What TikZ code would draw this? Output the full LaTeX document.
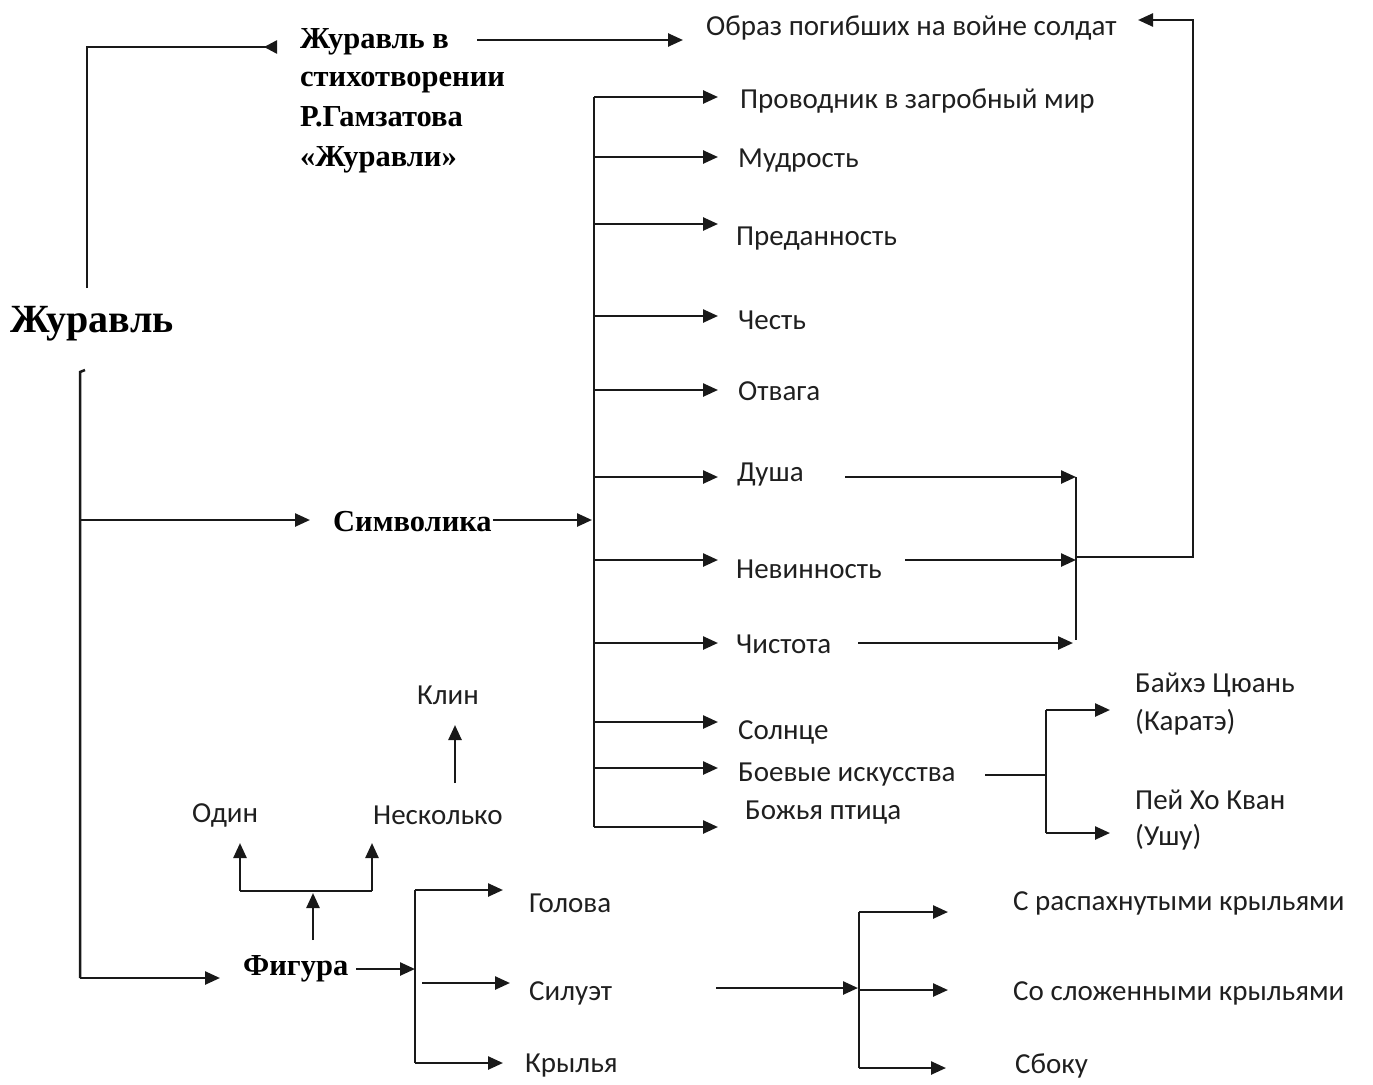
\documentclass[tikz,border=0pt]{standalone}
\usepackage{fontspec}
\setmainfont{Liberation Serif}
\newfontfamily\sansf{Carlito}
\usetikzlibrary{arrows.meta}
\begin{document}
\begin{tikzpicture}[x=1pt,y=-1pt,
  ser/.style={font=\fontsize{30.5}{34}\selectfont\bfseries, inner sep=0pt, anchor=west},
  sn/.style={font=\sansf\fontsize{29}{32}\selectfont, inner sep=0pt, anchor=west, text=black!88},
  ln/.style={line width=2.5pt, draw=black!90},
  arr/.style={ln, -{Triangle[length=15pt,width=13pt]}},
  rarr/.style={ln, -{Triangle[reversed,length=13pt,width=13pt]}}]
\useasboundingbox (0,0) rectangle (1373,1084);
% ---- serif nodes
\node[ser, font=\fontsize{40}{44}\selectfont\bfseries] (zh) at (10,324) {Журавль};
\node[ser, anchor=base west] (p1) at (300,48) {Журавль в};
\node[ser, anchor=base west] (p2) at (300,86) {стихотворении};
\node[ser, anchor=base west] (p3) at (300,126) {Р.Гамзатова};
\node[ser, anchor=base west] (p4) at (300,166) {«Журавли»};
\node[ser] (sym) at (333,522) {Символика};
\node[ser] (fig) at (243,969) {Фигура};
% ---- sans nodes
\node[sn] (obr) at (706,28) {Образ погибших на войне солдат};
\node[sn] (pr) at (740,101) {Проводник в загробный мир};
\node[sn] (mu) at (738,161) {Мудрость};
\node[sn] (pd) at (736,239) {Преданность};
\node[sn] (ch) at (738,320) {Честь};
\node[sn] (ot) at (738,391) {Отвага};
\node[sn] (du) at (737,475) {Душа};
\node[sn] (ne) at (736,569) {Невинность};
\node[sn] (cs) at (736,644) {Чистота};
\node[sn] (so) at (738,732) {Солнце};
\node[sn] (bo) at (738,775) {Боевые искусства};
\node[sn] (bp) at (745,813) {Божья птица};
\node[sn] (ba1) at (1135,685) {Байхэ Цюань};
\node[sn] (ba2) at (1135,722) {(Каратэ)};
\node[sn] (pe1) at (1135,800) {Пей Хо Кван};
\node[sn] (pe2) at (1135,837) {(Ушу)};
\node[sn] (kl) at (417,695) {Клин};
\node[sn] (od) at (192,815) {Один};
\node[sn] (ns) at (373,815) {Несколько};
\node[sn] (go) at (529,903) {Голова};
\node[sn] (si) at (529,993) {Силуэт};
\node[sn] (kr) at (525,1066) {Крылья};
\node[sn] (r1) at (1013,903) {С распахнутыми крыльями};
\node[sn] (r2) at (1013,993) {Со сложенными крыльями};
\node[sn] (r3) at (1015,1066) {Сбоку};
% ---- junction coordinates
\coordinate (zU) at (87,288); \coordinate (zUc) at (87,47); \coordinate (zUe) at (277,47);
\coordinate (pE) at (477,40); \coordinate (obrW) at (683,40);
\coordinate (mvT) at (594,97); \coordinate (mvB) at (594,827);
\coordinate (zL) at (85,370); \coordinate (zLc) at (80,372); \coordinate (zLb) at (80,978);
\coordinate (symW) at (310,520); \coordinate (mvS) at (592,520);
\coordinate (figW) at (220,978); \coordinate (fvT) at (415,890); \coordinate (fvB) at (415,1063);
% ---- connectors
\draw[rarr] (zU) -- (zUc) -- (zUe);
\draw[arr] (pE) -- (obrW);
\draw[ln] (mvT) -- (mvB);
\foreach \y in {97,157,224,316,390,477,560,643,722,768,827}
  \draw[arr] (594,\y) -- (718,\y);
\draw[ln] (zL) -- (zLc) -- (zLb);
\draw[arr] (zLc |- symW) -- (symW);
\draw[arr] ([xshift=1pt]sym.east |- mvS) -- (mvS);
\draw[arr] (zLb) -- (figW);
\draw[arr] ([xshift=8pt]fig.east) -- (fvT |- fig.east);
% Фигура up
\draw[arr] (313,940) -- (313,893);
\draw[ln] (240,891) -- (372,891);
\draw[arr] (240,891) -- (240,843);
\draw[arr] (372,891) -- (372,843);
\draw[arr] (455,783) -- (455,725);
% Фигура branches
\draw[ln] (fvT) -- (fvB);
\draw[arr] (fvT) -- (503,890);
\draw[arr] (422,983) -- (510,983);
\draw[arr] (fvB) -- (503,1063);
% Силуэт branches
\draw[arr] (716,988) -- (858,988);
\draw[ln] (859,912) -- (859,1068);
\draw[arr] (859,912) -- (948,912);
\draw[arr] (859,990) -- (948,990);
\draw[arr] (859,1068) -- (946,1068);
% Душа / Невинность / Чистота
\draw[arr] (845,477) -- (1076,477);
\draw[arr] (905,560) -- (1076,560);
\draw[arr] (858,643) -- (1073,643);
\draw[ln] (1076,477) -- (1076,640);
\draw[arr] (1076,557) -- (1193,557) -- (1193,20) -- (1138,20);
% Боевые искусства
\draw[ln] (985,775) -- (1046,775);
\draw[ln] (1046,710) -- (1046,833);
\draw[arr] (1046,710) -- (1110,710);
\draw[arr] (1046,833) -- (1110,833);
\end{tikzpicture}
\end{document}
